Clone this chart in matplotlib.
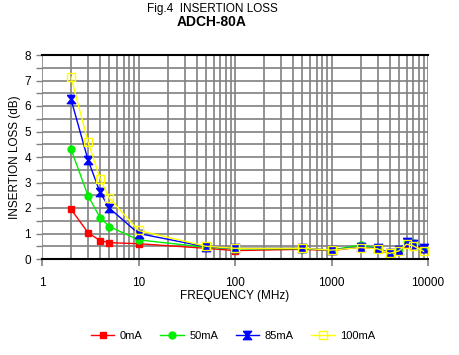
import numpy as np
import matplotlib.pyplot as plt
from matplotlib.ticker import FixedLocator, NullFormatter

plt.rcParams['font.family'] = ['Liberation Sans', 'DejaVu Sans']

freq = [2, 3, 4, 5, 10, 50, 100, 500, 1000, 2000, 3000, 4000, 5000, 6000, 7000, 9000]
loss_0 = [1.95, 1.03, 0.72, 0.64, 0.6, 0.42, 0.33, 0.38, 0.33, 0.47, 0.4, 0.2, 0.32, 0.6, 0.55, 0.4]
loss_50 = [4.3, 2.48, 1.62, 1.27, 0.75, 0.46, 0.4, 0.4, 0.35, 0.55, 0.42, 0.24, 0.34, 0.66, 0.62, 0.45]
loss_85 = [6.26, 3.88, 2.61, 1.99, 1.0, 0.48, 0.42, 0.42, 0.35, 0.47, 0.42, 0.24, 0.34, 0.67, 0.6, 0.44]
loss_100 = [7.13, 4.59, 3.15, 2.38, 1.12, 0.5, 0.42, 0.42, 0.35, 0.45, 0.4, 0.22, 0.32, 0.58, 0.52, 0.3]
labels = ['0mA', '50mA', '85mA', '100mA']

hourglass = [(-1, 1), (1, 1), (0.15, 0), (1, -1), (-1, -1), (-0.15, 0), (-1, 1)]

fig = plt.figure(figsize=(4.59, 3.55), dpi=100)
ax = fig.add_axes([42/459, (355-259)/355, (428-42)/459, (259-55)/355])

ax.semilogx(freq, loss_0, color='#ff0000', marker='s', ms=5, lw=1, label=labels[0])
ax.semilogx(freq, loss_50, color='#00ee00', marker='o', ms=5, lw=1, label=labels[1])
ax.semilogx(freq, loss_85, color='#0000ff', marker=hourglass, ms=6, lw=1, label=labels[2])
ax.semilogx(freq, loss_100, color='#ffff00', marker='s', ms=6, mfc='none', mew=1, lw=1, label=labels[3])

ax.set_xlim(1, 10000)
ax.set_ylim(0, 8)
ax.xaxis.set_major_locator(FixedLocator([1, 10, 100, 1000, 10000]))
ax.xaxis.set_minor_locator(FixedLocator([m * 10**d for d in range(4) for m in range(2, 10)]))
ax.xaxis.set_minor_formatter(NullFormatter())
ax.set_xticklabels(['1', '10', '100', '1000', '10000'])
ax.set_yticks(range(9))
ax.set_yticks(np.arange(0.5, 8, 1), minor=True)
ax.grid(True, which='both', color='#808080', lw=1.2)
ax.set_axisbelow(True)
ax.tick_params(axis='x', which='major', length=5, color='#808080', width=1.2, labelsize=8.5, pad=8)
ax.tick_params(axis='x', which='minor', length=0)
ax.tick_params(axis='y', which='both', length=4, color='#808080', width=1, labelsize=8.5, pad=4)
for s in ['left', 'right']:
    ax.spines[s].set_visible(False)
for s in ['top', 'bottom']:
    ax.spines[s].set_color('black')
    ax.spines[s].set_linewidth(1.5)

ax.set_xlabel('FREQUENCY (MHz)', fontsize=8.5, labelpad=1)
ax.set_ylabel('INSERTION LOSS (dB)', fontsize=8.5, labelpad=2)

fig.text(0.462, 0.976, 'Fig.4  INSERTION LOSS', ha='center', va='center', fontsize=8.5)
fig.text(0.462, 0.937, 'ADCH-80A', ha='center', va='center', fontsize=10, fontweight='bold')

fig.legend(loc='center', ncol=4, frameon=False, fontsize=8, bbox_to_anchor=(0.508, 0.053),
           handlelength=2.1, columnspacing=1.6, handletextpad=0.5)

fig.savefig('out.png', dpi=100)
